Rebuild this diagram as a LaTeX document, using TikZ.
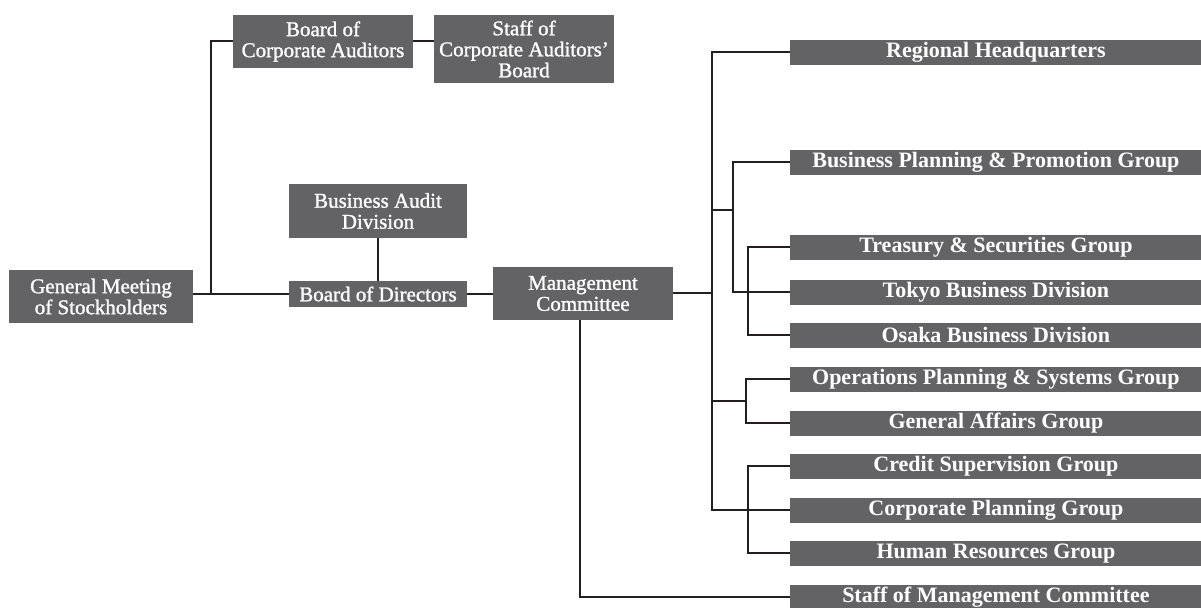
\documentclass[tikz,border=0pt]{standalone}
\usepackage{fontspec}
\setmainfont{Liberation Serif}
\newfontfamily\orgfont[FakeBold=1.2,Ligatures=TeX]{Liberation Serif}
\definecolor{boxgray}{HTML}{636365}
\definecolor{linegray}{HTML}{231F20}
\begin{document}
\begin{tikzpicture}[x=0.5pt,y=-0.5pt]
\begin{scope}

\tikzstyle{orgnode} = [fill=boxgray,text=white,inner sep=0pt,align=center,font=\orgfont\fontsize{10.5}{10.5}\selectfont];
\tikzstyle{unitnode} = [fill=boxgray,text=white,inner sep=0pt,minimum width=205.5pt,minimum height=12.5pt,font=\fontsize{11}{11}\bfseries\selectfont];
\tikzstyle{linknode} = [draw=linegray,line width=1pt];

\useasboundingbox (0,0) rectangle (1201,608);

\node [orgnode,minimum width=92pt,minimum height=26.5pt] (gm) at (101,296.5) {General Meeting\\of Stockholders};
\node [orgnode,minimum width=89pt,minimum height=13pt] (bd) at (378,294) {Board of Directors};
\node [orgnode,minimum width=89pt,minimum height=27pt] (bad) at (378,211) {Business Audit\\Division};
\node [orgnode,minimum width=90pt,minimum height=26.5pt] (mc) at (583,293.5) {Management\\Committee};
\node [orgnode,minimum width=90pt,minimum height=26.5pt] (bca) at (323,41.5) {Board of\\Corporate Auditors};
\node [orgnode,minimum width=90pt,minimum height=34pt] (sca) at (524,49) {Staff of\\Corporate Auditors'\\Board};

\node [unitnode,anchor=west] (u1) at (790,52.5) {Regional Headquarters};
\node [unitnode,anchor=west] (u2) at (790,162.5) {Business Planning \& Promotion Group};
\node [unitnode,anchor=west] (u3) at (790,247.5) {Treasury \& Securities Group};
\node [unitnode,anchor=west] (u4) at (790,292.5) {Tokyo Business Division};
\node [unitnode,anchor=west] (u5) at (790,335.5) {Osaka Business Division};
\node [unitnode,anchor=west] (u6) at (790,379.5) {Operations Planning \& Systems Group};
\node [unitnode,anchor=west] (u7) at (790,423.5) {General Affairs Group};
\node [unitnode,anchor=west] (u8) at (790,466.5) {Credit Supervision Group};
\node [unitnode,anchor=west] (u9) at (790,510.5) {Corporate Planning Group};
\node [unitnode,anchor=west] (u10) at (790,553.5) {Human Resources Group};
\node [unitnode,anchor=west] (u11) at (790,597.5) {Staff of Management Committee};

\coordinate (j1) at (211,294);
\coordinate (tk) at (712,293.5);
\coordinate (b1) at (733,210);
\coordinate (b2) at (748,0);
\coordinate (b3) at (746,401);

\draw [linknode] (gm.east |- bd.west) -- (bd.west);
\draw [linknode] (bca.west) -| (j1);
\draw [linknode] (bca.east) -- (bca.east -| sca.west);
\draw [linknode] (bad.south) -- (bd.north);
\draw [linknode] (bd.east) -- (bd.east -| mc.west);
\draw [linknode] (mc.east) -- (tk);
\draw [linknode] (u1.west) -| (tk |- u9.west) -- (u9.west);
\draw [linknode] (tk |- b1) -- (b1);
\draw [linknode] (u2.west) -| (b1 |- u4.west) -- (u4.west);
\draw [linknode] (u3.west) -| (b2 |- u5.west) -- (u5.west);
\draw [linknode] (tk |- b3) -- (b3);
\draw [linknode] (u6.west) -| (b3 |- u7.west) -- (u7.west);
\draw [linknode] (u8.west) -| (b2 |- u10.west) -- (u10.west);
\draw [linknode] ([xshift=-1.5pt]mc.south) |- (u11.west);

\end{scope}
\end{tikzpicture}
\end{document}
